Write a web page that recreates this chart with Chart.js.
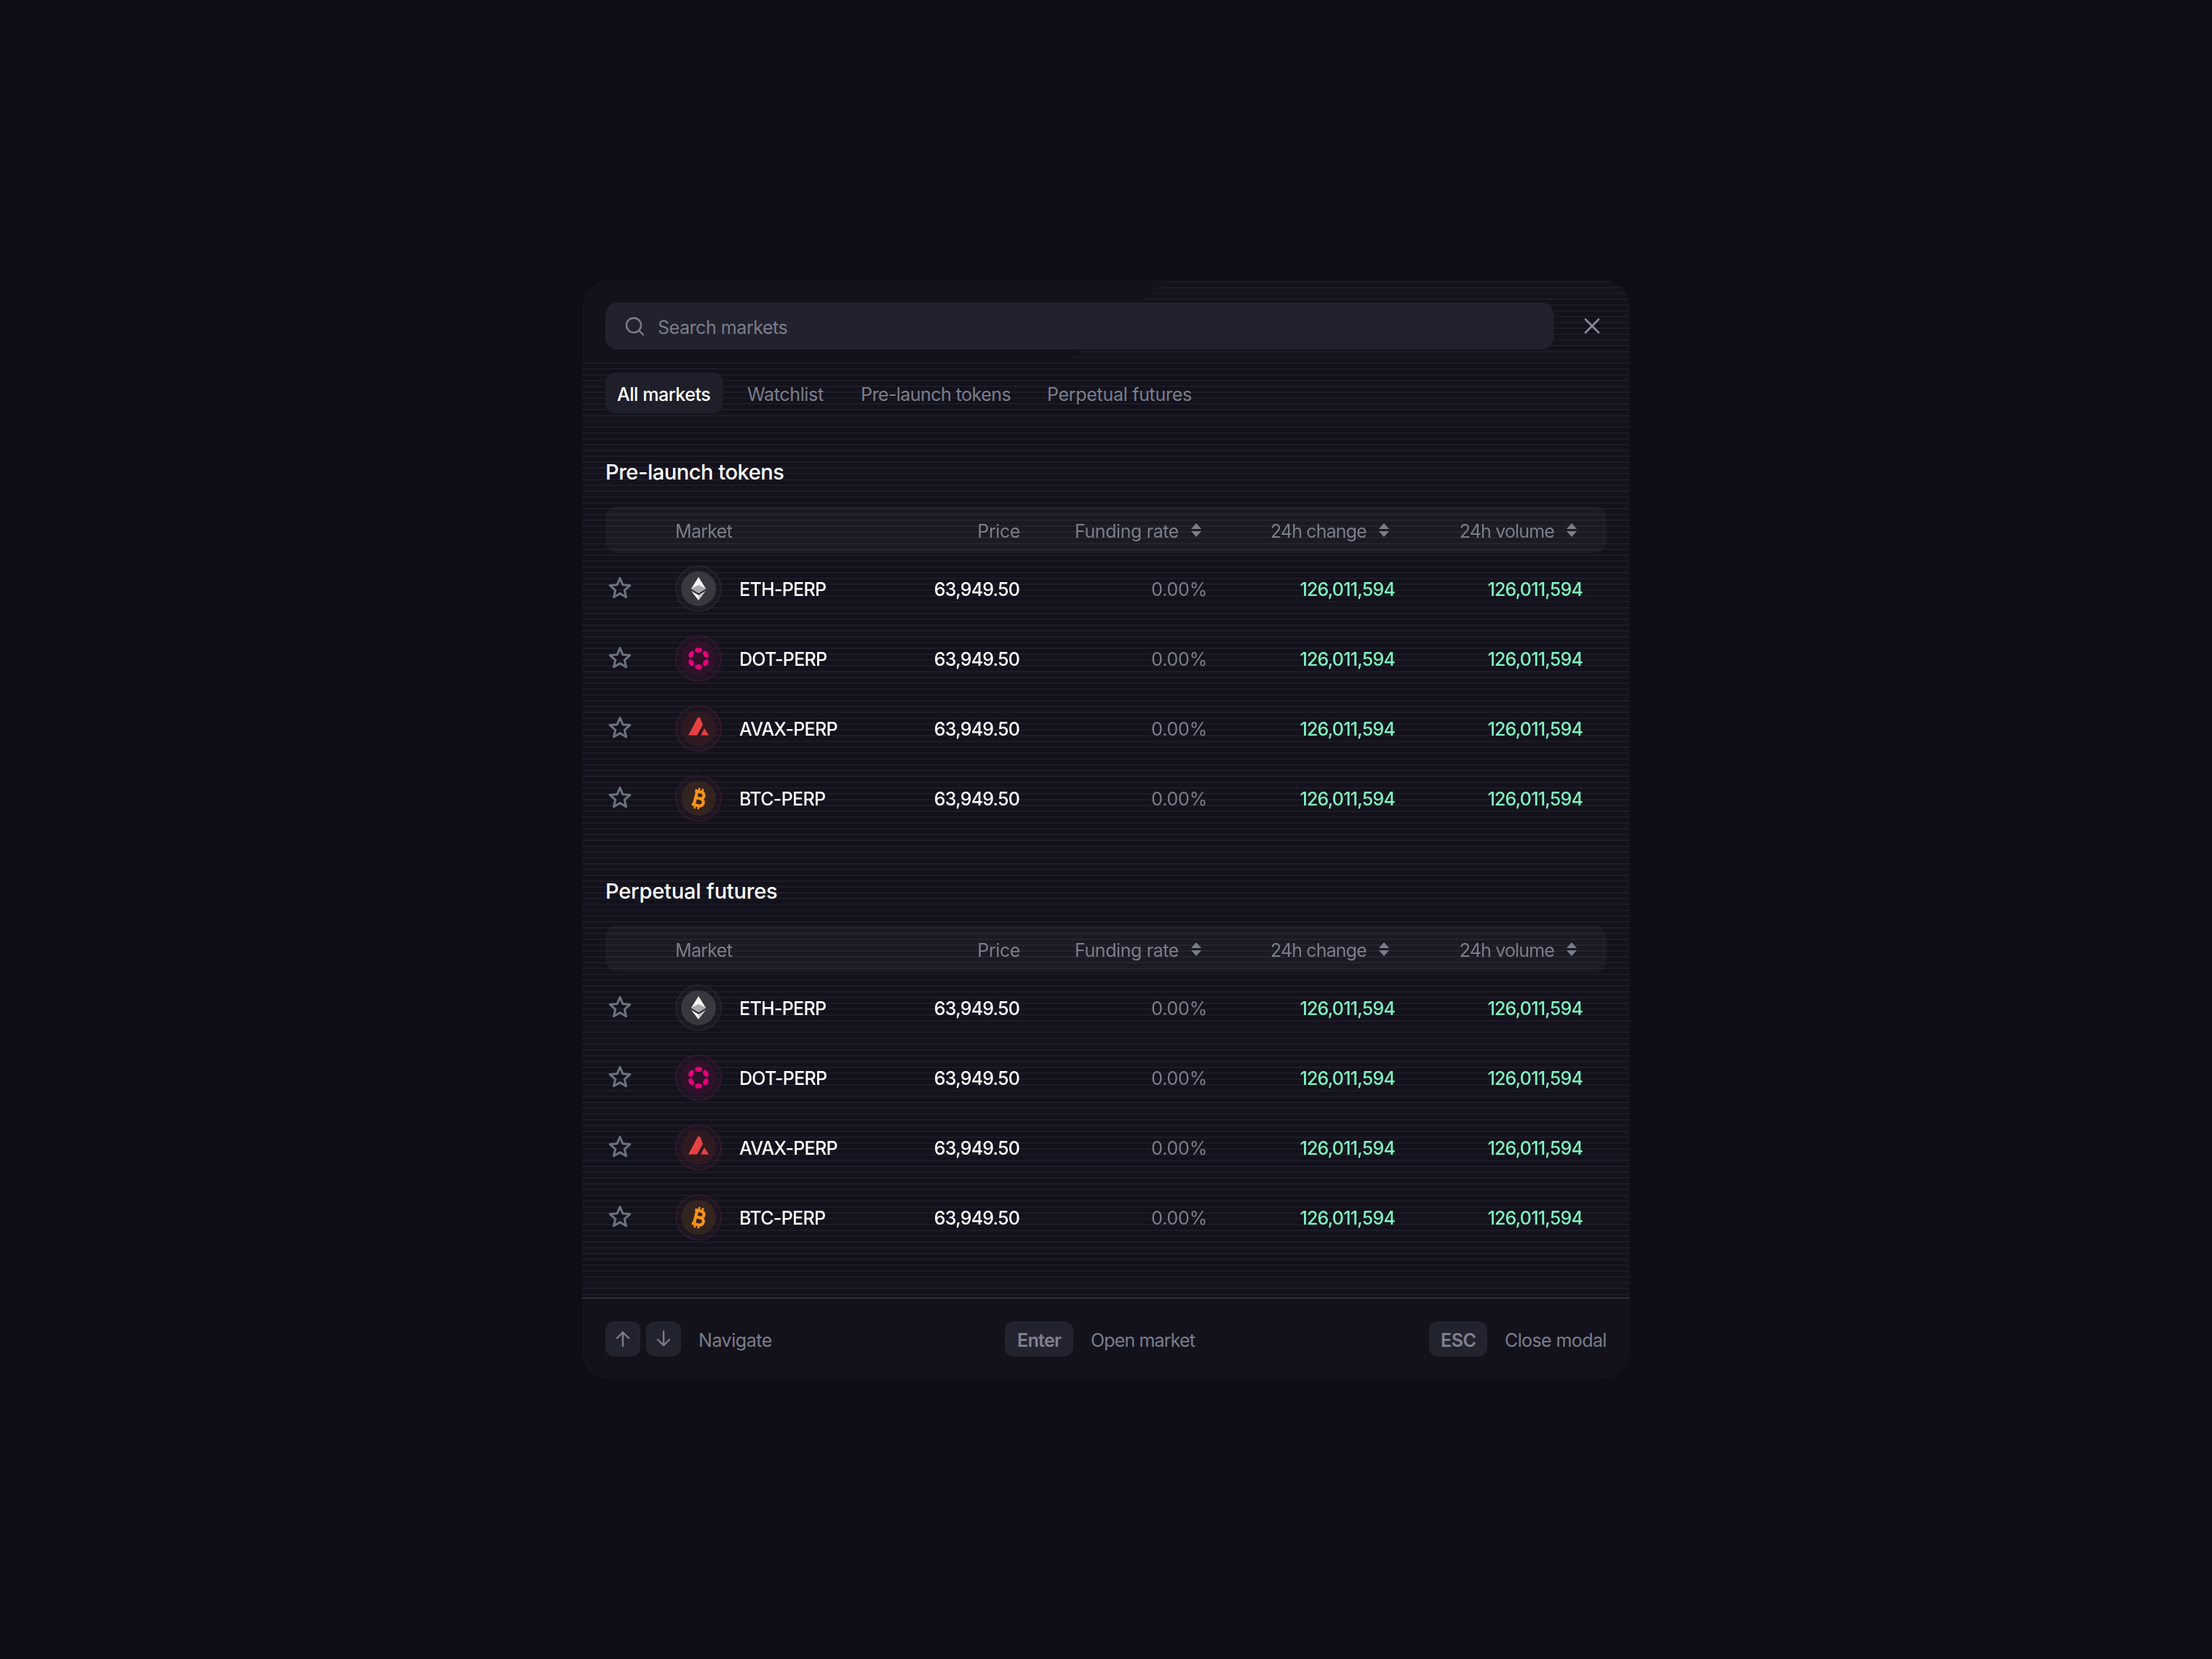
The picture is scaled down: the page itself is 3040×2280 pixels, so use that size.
<!DOCTYPE html>
<html>
<head>
<meta charset="utf-8">
<title>Markets</title>
<script src="https://cdn.jsdelivr.net/npm/chart.js@4"></script>
<style>
  html, body { margin: 0; width: 3040px; height: 2280px; background: #0e0d15; overflow: hidden; font-family: Inter, sans-serif; }
  #modal { position: absolute; left: 800px; top: 385px; width: 1440px; height: 1510px; border-radius: 36px; background: #13121c; overflow: hidden; }
  #stripes { position: absolute; left: 0; top: 0; width: 1440px; height: 1399px;
    background: repeating-linear-gradient(to bottom, transparent 0, transparent 1px, #1c1b28 1px, #1c1b28 3px, transparent 3px, transparent 8px);
    clip-path: polygon(0 113px, 665px 113px, 805px 0, 1440px 0, 1440px 1399px, 0 1399px); }
  #divider { position: absolute; left: 0; top: 1398px; width: 1440px; height: 2px; background: #2b2b38; }
  .box { position: absolute; }
  .search { left: 832px; top: 416px; width: 1303px; height: 64px; border-radius: 16px; background: #22222e; }
  .tab-on { left: 832px; top: 512px; width: 162px; height: 56px; border-radius: 14px; background: #1f1f2b; }
  .thead { left: 832px; width: 1376px; height: 64px; border-radius: 16px; background: rgba(255,255,255,0.035); }
  .key { top: 1816px; height: 48px; border-radius: 12px; background: #232330; }
  .t { position: absolute; transform: translateY(-50%); white-space: nowrap; font-size: 25px; line-height: 32px; color: #7b7d8b; letter-spacing: -0.45px; }
  .white { color: #fff; font-weight: 500; }
  .title { color: #fff; font-size: 29px; font-weight: 500; }
  .bold { font-weight: 600; color: #80828f; }
  canvas { position: absolute; left: 832px; }
  svg { position: absolute; }
</style>
</head>
<body>
<div id="modal"><div id="stripes"></div><div id="divider"></div></div>

<div class="box search"></div>
<svg style="left:858px;top:434px" width="28" height="28" fill="none" stroke="#7b7d8b" stroke-width="2.4" stroke-linecap="round"><circle cx="13" cy="13" r="10"/><path d="M20.5 20.5L26 26"/></svg>
<div class="t" style="left:904px;top:450px">Search markets</div>
<svg style="left:2176px;top:436px" width="24" height="24" fill="none" stroke="#8a8c99" stroke-width="2.6" stroke-linecap="round"><path d="M3 3L21 21M21 3L3 21"/></svg>

<div class="box tab-on"></div>
<div class="t white" style="left:848px;top:542px">All markets</div>
<div class="t" style="left:1027px;top:542px;letter-spacing:-0.35px">Watchlist</div>
<div class="t" style="left:1183px;top:542px;letter-spacing:-0.55px">Pre-launch tokens</div>
<div class="t" style="left:1439px;top:542px;letter-spacing:-0.3px">Perpetual futures</div>

<div class="t title" style="left:832px;top:649px">Pre-launch tokens</div>
<div class="box thead" style="top:696px"></div>
<canvas id="table1" width="1376" height="448" style="top:696px"></canvas>

<div class="t title" style="left:832px;top:1225px;letter-spacing:-0.2px">Perpetual futures</div>
<div class="box thead" style="top:1272px"></div>
<canvas id="table2" width="1376" height="448" style="top:1272px"></canvas>

<div class="box key" style="left:832px;width:48px"></div>
<svg style="left:844px;top:1828px" width="24" height="24" fill="none" stroke="#7b7d8b" stroke-width="2.4" stroke-linecap="round" stroke-linejoin="round"><path d="M12 22V3M4 11L12 3L20 11"/></svg>
<div class="box key" style="left:888px;width:48px"></div>
<svg style="left:900px;top:1828px" width="24" height="24" fill="none" stroke="#7b7d8b" stroke-width="2.4" stroke-linecap="round" stroke-linejoin="round"><path d="M12 2V21M4 13L12 21L20 13"/></svg>
<div class="t" style="left:960px;top:1842px">Navigate</div>
<div class="box key" style="left:1381px;width:94px"></div>
<div class="t bold" style="left:1398px;top:1842px;letter-spacing:-0.7px">Enter</div>
<div class="t" style="left:1499px;top:1842px;letter-spacing:-0.85px">Open market</div>
<div class="box key" style="left:1964px;width:80px"></div>
<div class="t bold" style="left:1980px;top:1842px">ESC</div>
<div class="t" style="left:2068px;top:1842px;letter-spacing:-0.6px">Close modal</div>

<script>
const markets = ['ETH-PERP', 'DOT-PERP', 'AVAX-PERP', 'BTC-PERP'];
const columns = ['Market', 'Price', 'Funding rate', '24h change', '24h volume'];
const sortable = ['Funding rate', '24h change', '24h volume'];
const prices = [63949.50, 63949.50, 63949.50, 63949.50];
const fundingRates = [0, 0, 0, 0];
const changes = [126011594, 126011594, 126011594, 126011594];
const volumes = [126011594, 126011594, 126011594, 126011594];

const FONT = 'Inter, sans-serif';
const GREY = '#7b7d8b';
const GREEN = '#7ff4be';

// tint of each coin badge: disc, ring
const badges = {
  'ETH-PERP': ['#38383f', '#272832'],
  'DOT-PERP': ['#2f1229', '#381836'],
  'AVAX-PERP': ['#301a21', '#381b2e'],
  'BTC-PERP': ['#33241f', '#361a30'],
};

function drawStar(ctx, x, y) {
  ctx.beginPath();
  for (let i = 0; i < 10; i++) {
    const r = i % 2 ? 6.6 : 14.5;
    const a = -Math.PI / 2 + i * Math.PI / 5;
    ctx.lineTo(x + r * Math.cos(a), y + r * Math.sin(a));
  }
  ctx.closePath();
  ctx.strokeStyle = '#6b7280';
  ctx.lineWidth = 3;
  ctx.lineJoin = 'round';
  ctx.stroke();
}

function poly(ctx, color, pts) {
  ctx.beginPath();
  pts.forEach(p => ctx.lineTo(p[0], p[1]));
  ctx.closePath();
  ctx.fillStyle = color;
  ctx.fill();
}

function drawGlyph(ctx, name) {
  if (name === 'ETH-PERP') {
    poly(ctx, '#f4f4f5', [[0, -16], [10, 0], [0, 6], [-10, 0]]);
    poly(ctx, '#a9a9ad', [[0, -5], [10, 0], [0, 6], [-10, 0]]);
    poly(ctx, '#ffffff', [[-10, 3], [0, 9], [0, 16]]);
    poly(ctx, '#c9c9cc', [[10, 3], [0, 9], [0, 16]]);
  } else if (name === 'DOT-PERP') {
    ctx.fillStyle = '#e6007a';
    [0, 60, 120, 180, 240, 300].forEach(deg => {
      const a = (deg - 90) * Math.PI / 180;
      ctx.beginPath();
      ctx.ellipse(11.5 * Math.cos(a), 11.5 * Math.sin(a), 5, 3.4, a + Math.PI / 2, 0, 2 * Math.PI);
      ctx.fill();
    });
  } else if (name === 'AVAX-PERP') {
    poly(ctx, '#e84142', [[-1, -15], [2, -15], [6, -5], [-2, 9.5], [-14, 9.5]]);
    poly(ctx, '#e84142', [[8, 0], [14, 9.5], [3, 9.5]]);
  } else {
    ctx.rotate(14 * Math.PI / 180);
    ctx.strokeStyle = '#f7931a';
    ctx.lineWidth = 4.2;
    ctx.beginPath();
    ctx.moveTo(-7, -9);
    ctx.lineTo(2, -9);
    ctx.arc(2, -4.5, 4.5, -Math.PI / 2, Math.PI / 2);
    ctx.lineTo(-5, 0);
    ctx.moveTo(2, 0);
    ctx.arc(3, 5, 5, -Math.PI / 2, Math.PI / 2);
    ctx.lineTo(-7, 10);
    ctx.moveTo(-4, -9);
    ctx.lineTo(-4, 10);
    ctx.stroke();
    ctx.lineWidth = 2.6;
    ctx.beginPath();
    ctx.moveTo(-2, -14);
    ctx.lineTo(-2, -9);
    ctx.moveTo(3, -14);
    ctx.lineTo(3, -9);
    ctx.moveTo(-2, 10);
    ctx.lineTo(-2, 15);
    ctx.moveTo(3, 10);
    ctx.lineTo(3, 15);
    ctx.stroke();
  }
}

function drawBadge(ctx, x, y, name) {
  const [disc, ring] = badges[name];
  ctx.save();
  ctx.translate(x, y);
  ctx.beginPath();
  ctx.arc(0, 0, 31, 0, 2 * Math.PI);
  ctx.strokeStyle = ring;
  ctx.lineWidth = 1.6;
  ctx.stroke();
  ctx.globalAlpha = 0.3;
  ctx.fillStyle = ring;
  ctx.fill();
  ctx.globalAlpha = 1;
  ctx.beginPath();
  ctx.arc(0, 0, 24, 0, 2 * Math.PI);
  ctx.fillStyle = disc;
  ctx.fill();
  drawGlyph(ctx, name);
  ctx.restore();
}

// header row, sort arrows and cell contents, placed on the chart's own points
const tablePlugin = {
  id: 'marketTable',
  afterDatasetsDraw(chart) {
    const ctx = chart.ctx;
    const xs = chart.scales.x;

    ctx.save();
    ctx.textBaseline = 'middle';
    ctx.font = '25px ' + FONT;
    for (const col of columns) {
      const x = xs.getPixelForValue(columns.indexOf(col));
      ctx.fillStyle = GREY;
      if (col === 'Market') {
        ctx.textAlign = 'left';
        ctx.letterSpacing = '-0.7px';
        ctx.fillText(col, x - 215, 35);
      } else if (sortable.includes(col)) {
        ctx.textAlign = 'right';
        ctx.letterSpacing = col === 'Funding rate' ? '-0.4px' : '-0.85px';
        ctx.fillText(col, x - 39, 35);
        poly(ctx, GREY, [[x - 15, 23], [x - 8, 31], [x - 22, 31]]);
        poly(ctx, GREY, [[x - 22, 34], [x - 8, 34], [x - 15, 42]]);
      } else {
        ctx.textAlign = 'right';
        ctx.letterSpacing = '-0.4px';
        ctx.fillText(col, x + 1, 35);
      }
    }

    chart.data.datasets.forEach((ds, i) => {
      chart.getDatasetMeta(i).data.forEach((pt, j) => {
        if (ds.cell === 'market') {
          drawStar(ctx, pt.x - 291, pt.y + 1);
          drawBadge(ctx, pt.x - 183, pt.y + 1, markets[j]);
          ctx.textAlign = 'left';
          ctx.font = '500 25px ' + FONT;
          ctx.letterSpacing = '-0.7px';
          ctx.fillStyle = '#fff';
          ctx.fillText(markets[j], pt.x - 127, pt.y + 3);
        } else {
          ctx.textAlign = 'right';
          ctx.font = ds.textFont + ' 25px ' + FONT;
          ctx.letterSpacing = ds.textFont === '400' ? '-0.2px' : '-0.8px';
          ctx.fillStyle = ds.textColor;
          ctx.fillText(ds.text[j], pt.x, pt.y + 3);
        }
      });
    });
    ctx.restore();
  }
};

function columnDataset(col, cell, text, textColor, textFont) {
  return {
    label: col,
    cell: cell,
    text: text,
    textColor: textColor,
    textFont: textFont,
    data: markets.map(m => ({ x: col, y: m })),
    pointRadius: 0,
    showLine: false,
  };
}

function createTable(id) {
  const money = prices.map(v => v.toLocaleString('en-US', { minimumFractionDigits: 2 }));
  const rates = fundingRates.map(v => v.toFixed(2) + '%');
  const whole = v => v.toLocaleString('en-US');

  new Chart(document.getElementById(id), {
    type: 'scatter',
    data: {
      datasets: [
        columnDataset('Market', 'market'),
        columnDataset('Price', 'text', money, '#fff', '500'),
        columnDataset('Funding rate', 'text', rates, GREY, '400'),
        columnDataset('24h change', 'text', changes.map(whole), GREEN, '500'),
        columnDataset('24h volume', 'text', volumes.map(whole), GREEN, '500'),
      ]
    },
    options: {
      responsive: false,
      devicePixelRatio: 1,
      animation: false,
      layout: { padding: { left: 311, right: 33, top: 64, bottom: 0 } },
      plugins: { legend: { display: false }, tooltip: { enabled: false } },
      scales: {
        x: { type: 'category', labels: columns, offset: false, display: false },
        y: { type: 'category', labels: markets, offset: true, display: false },
      }
    },
    plugins: [tablePlugin]
  });
}

createTable('table1');
createTable('table2');
</script>
</body>
</html>
